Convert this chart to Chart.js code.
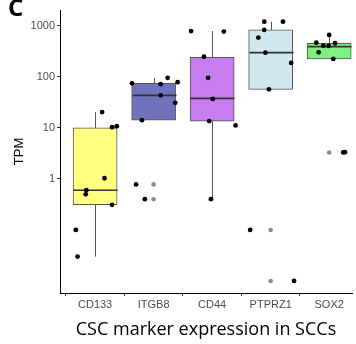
<!DOCTYPE html>
<html>
<head>
<meta charset="utf-8">
<script src="https://cdn.jsdelivr.net/npm/chart.js@4"></script>
<style>
  html, body { margin: 0; padding: 0; background: #fff; }
  #wrap { width: 356px; height: 344px; }
</style>
</head>
<body>
<div id="wrap"><canvas id="myChart" width="356" height="344"></canvas></div>
<script>
// box plot values (TPM)
const categories = ["CD133", "ITGB8", "CD44", "PTPRZ1", "SOX2"];
const whiskerLow = [0.030, 14.2, 0.40, 57, 225];
const boxQ1 = [0.314, 14.2, 13.6, 57, 225];
const boxMedian = [0.60, 43.5, 38, 299, 393];
const boxQ3 = [10, 75, 243, 835, 457];
const whiskerHigh = [20.4, 96, 790, 1210, 665];
const boxColors = ["#FFFF80", "#7172BC", "#C77CF0", "#D2E8F0", "#80F080"];

// individual samples (jittered) : group index, value, jitter
const pointGroup = [0, 0, 0, 0, 0, 0, 0, 0, 0,
                    1, 1, 1, 1, 1, 1, 1, 1, 1,
                    2, 2, 2, 2, 2, 2, 2, 2,
                    3, 3, 3, 3, 3, 3, 3, 3, 3,
                    4, 4, 4, 4, 4, 4, 4, 4, 4];
const pointValue = [20.4, 10.3, 10.8, 1.03, 0.60, 0.50, 0.31, 0.10, 0.030,
                    75, 72, 96, 79, 43.5, 31, 14.2, 0.78, 0.40,
                    790, 773, 249, 96, 37, 13.6, 11.2, 0.40,
                    1210, 1210, 835, 590, 299, 188, 57, 0.10, 0.010,
                    665, 470, 410, 405, 457, 304, 225, 3.3, 3.35];
const pointJitter = [0.12, 0.29, 0.37, 0.16, -0.15, -0.16, 0.29, -0.33, -0.30,
                     -0.37, 0.12, 0.24, 0.41, 0.12, 0.37, -0.20, -0.30, -0.15,
                     -0.36, 0.20, -0.14, -0.07, 0.01, -0.05, 0.40, -0.02,
                     -0.11, 0.21, -0.11, -0.21, -0.09, 0.35, -0.03, -0.35, 0.40,
                     0.0, -0.22, -0.10, -0.01, 0.10, -0.18, 0.07, 0.24, 0.27];

// outliers drawn by the boxplot layer (grey)
const outlierGroup = [1, 1, 3, 3, 4];
const outlierValue = [0.78, 0.40, 0.10, 0.010, 3.3];

const yTicks = [1, 10, 100, 1000];

const boxData = categories.map((c, i) => ({ x: i, y: [boxQ1[i], boxQ3[i]] }));
const pointData = pointValue.map((v, i) => ({ x: pointGroup[i] + pointJitter[i], y: v }));
const outlierData = outlierValue.map((v, i) => ({ x: outlierGroup[i], y: v }));

// whiskers + medians, drawn right after the boxes
const boxExtras = {
  id: "boxExtras",
  afterDatasetDraw(chart, args) {
    if (args.index !== 0) return;
    const ctx = chart.ctx;
    const xs = chart.scales.x, ys = chart.scales.y;
    const half = 22;
    ctx.save();
    ctx.beginPath();
    ctx.rect(chart.chartArea.left, chart.chartArea.top, chart.chartArea.width, chart.chartArea.height);
    ctx.clip();
    categories.forEach((c, i) => {
      const cx = Math.round(xs.getPixelForValue(i)) + 0.5;
      ctx.strokeStyle = "#555";
      ctx.lineWidth = 1;
      ctx.beginPath();
      ctx.moveTo(cx, ys.getPixelForValue(boxQ3[i]));
      ctx.lineTo(cx, ys.getPixelForValue(whiskerHigh[i]));
      ctx.moveTo(cx, ys.getPixelForValue(boxQ1[i]));
      ctx.lineTo(cx, ys.getPixelForValue(whiskerLow[i]));
      ctx.stroke();
      ctx.strokeStyle = "#333";
      ctx.lineWidth = 1.6;
      ctx.beginPath();
      const my = ys.getPixelForValue(boxMedian[i]);
      ctx.moveTo(cx - half, my);
      ctx.lineTo(cx + half, my);
      ctx.stroke();
    });
    ctx.restore();
  }
};

const panelLetter = {
  id: "panelLetter",
  afterDraw(chart) {
    const ctx = chart.ctx;
    ctx.save();
    ctx.fillStyle = "#000";
    ctx.font = "bold 24px 'Open Sans'";
    ctx.textBaseline = "top";
    ctx.textAlign = "left";
    ctx.fillText("C", 8, -3);
    ctx.restore();
  }
};

new Chart(document.getElementById("myChart"), {
  type: "bar",
  data: {
    datasets: [
      {
        type: "bar",
        data: boxData,
        backgroundColor: boxColors,
        borderColor: "#555",
        borderWidth: 1,
        borderSkipped: false,
        barThickness: 44,
        order: 2
      },
      {
        type: "scatter",
        data: outlierData,
        backgroundColor: "#8a8a8a",
        borderWidth: 0,
        pointRadius: 2.3,
        order: 1
      },
      {
        type: "scatter",
        data: pointData,
        backgroundColor: "#000",
        borderWidth: 0,
        pointRadius: 2.4,
        order: 0
      }
    ]
  },
  options: {
    responsive: false,
    animation: false,
    layout: { padding: { top: 10, right: 0, left: 0, bottom: 0 } },
    plugins: { legend: { display: false }, tooltip: { enabled: false } },
    scales: {
      x: {
        type: "linear",
        min: -0.6,
        max: 4.39,
        offset: false,
        afterBuildTicks: (s) => { s.ticks = categories.map((c, i) => ({ value: i })); },
        afterFit: (s) => { s.height = 51; },
        ticks: {
          callback: (v) => categories[v],
          color: "#4d4d4d",
          font: { family: "'Liberation Sans', Arial", size: 11 },
          padding: 2,
          maxRotation: 0
        },
        grid: { display: true, drawOnChartArea: false, drawTicks: true, tickLength: 3, color: "#333" },
        border: { display: true, color: "#000", width: 1 },
        title: {
          display: true,
          text: "CSC marker expression in SCCs",
          color: "#000",
          font: { family: "'Open Sans'", size: 18 },
          padding: { top: 0, bottom: 3 }
        }
      },
      y: {
        type: "logarithmic",
        min: 0.0058,
        max: 2050,
        afterBuildTicks: (s) => { s.ticks = yTicks.map(v => ({ value: v })); },
        afterFit: (s) => { s.width = 60; },
        ticks: {
          callback: (v) => String(v),
          color: "#4d4d4d",
          font: { family: "'Liberation Sans', Arial", size: 11 },
          padding: 2
        },
        grid: { display: true, drawOnChartArea: false, drawTicks: true, tickLength: 3, color: "#333" },
        border: { display: true, color: "#000", width: 1 },
        title: {
          display: true,
          text: "TPM",
          color: "#000",
          font: { family: "'Liberation Sans', Arial", size: 13 },
          padding: { top: 12, bottom: 0 }
        }
      }
    }
  },
  plugins: [boxExtras, panelLetter]
});
</script>
</body>
</html>
